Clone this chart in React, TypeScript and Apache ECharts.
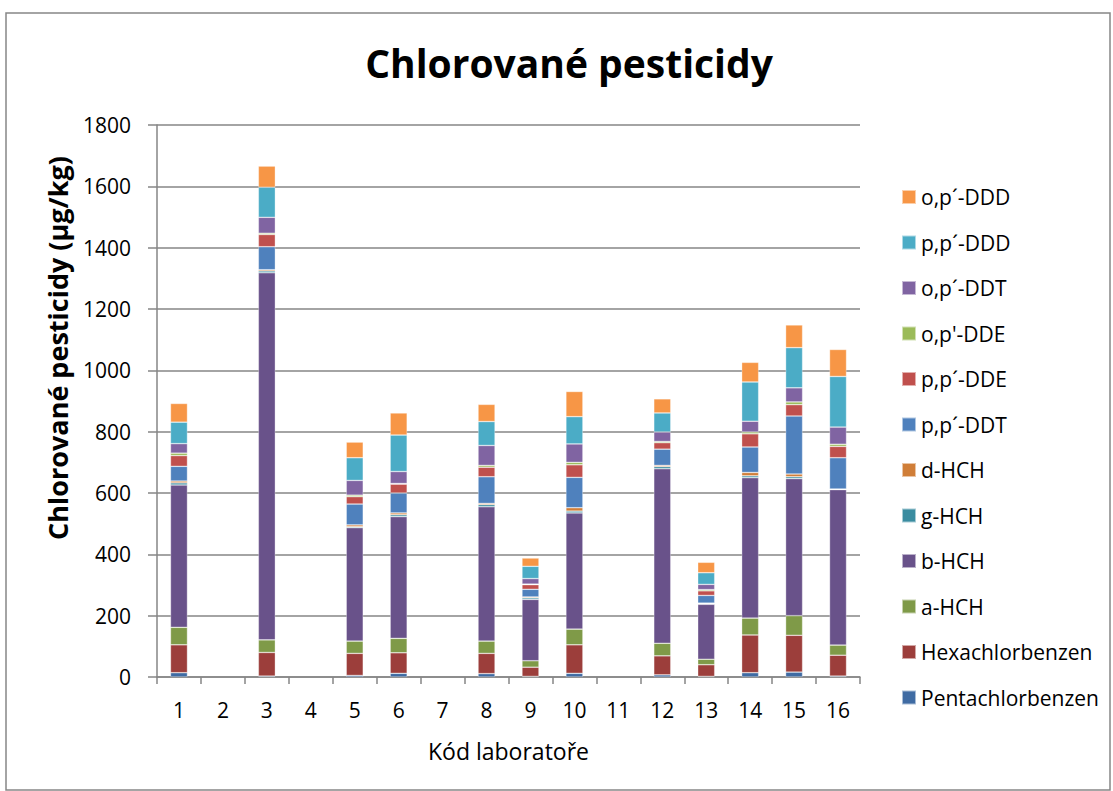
import React, { useEffect, useRef } from "react";
import * as echarts from "echarts";

const labs = ["1", "2", "3", "4", "5", "6", "7", "8", "9", "10", "11", "12", "13", "14", "15", "16"];

const pentachlorbenzen = [14, null, 3, null, 5, 12, null, 11, 2, 12, null, 7, 2, 14, 16, 3];
const hexachlorbenzen = [91, null, 77, null, 72, 67, null, 66, 30, 93, null, 62, 38, 123, 120, 68];
const aHCH = [57, null, 41, null, 40, 47, null, 40, 21, 51, null, 41, 18, 55, 64, 33];
const bHCH = [464, null, 1197, null, 370, 397, null, 438, 200, 379, null, 569, 179, 458, 447, 507];
const gHCH = [7, null, 6, null, 3, 6, null, 7, 5, 6, null, 7, 2, 6, 6, 1];
const dHCH = [6, null, 4, null, 6, 6, null, 4, 3, 11, null, 4, 2, 11, 9, 1];
const ppDDT = [48, null, 75, null, 68, 65, null, 87, 25, 99, null, 53, 25, 83, 189, 102];
const ppDDE = [35, null, 40, null, 24, 29, null, 31, 15, 41, null, 21, 15, 43, 37, 37];
const opDDE = [8, null, 4, null, 5, 2, null, 6, 2, 8, null, 4, 4, 6, 9, 7];
const opDDT = [31, null, 52, null, 48, 39, null, 65, 18, 60, null, 31, 17, 35, 46, 56];
const ppDDD = [70, null, 98, null, 74, 119, null, 78, 40, 89, null, 62, 38, 128, 131, 165];
const opDDD = [61, null, 69, null, 51, 72, null, 56, 27, 82, null, 46, 34, 64, 74, 88];

const seriesNames = [
  "Pentachlorbenzen",
  "Hexachlorbenzen",
  "a-HCH",
  "b-HCH",
  "g-HCH",
  "d-HCH",
  "p,p´-DDT",
  "p,p´-DDE",
  "o,p'-DDE",
  "o,p´-DDT",
  "p,p´-DDD",
  "o,p´-DDD",
];
const seriesValues = [
  pentachlorbenzen,
  hexachlorbenzen,
  aHCH,
  bHCH,
  gHCH,
  dHCH,
  ppDDT,
  ppDDE,
  opDDE,
  opDDT,
  ppDDD,
  opDDD,
];
const seriesColors = [
  "#3f6ba3",
  "#9c3e3b",
  "#7f9a48",
  "#69528a",
  "#3a8ca0",
  "#d07e38",
  "#4f81bd",
  "#c0504d",
  "#9bbb59",
  "#8064a2",
  "#4bacc6",
  "#f79646",
];

const yTicks = { min: 0, max: 1800, interval: 200 };

const FONT = "'Open Sans', sans-serif";
const GRAY = "#868686";

export default function App() {
  const ref = useRef<HTMLDivElement>(null);

  useEffect(() => {
    document.body.style.margin = "0";
    if (!ref.current) return;
    const chart = echarts.init(ref.current, null, { renderer: "svg" });
    chart.setOption({
      animation: false,
      backgroundColor: "#ffffff",
      textStyle: { fontFamily: FONT },
      title: {
        text: "Chlorované pesticidy",
        left: 564,
        textAlign: "center",
        top: 38,
        textStyle: { fontFamily: FONT, fontWeight: "bold", fontSize: 39, color: "#000" },
      },
      grid: { left: 157, right: 253, top: 125, bottom: 114, containLabel: false },
      legend: {
        orient: "vertical",
        left: 901,
        top: 186.5,
        padding: 0,
        itemWidth: 14,
        itemHeight: 14,
        itemGap: 24.5,
        icon: "rect",
        data: [...seriesNames].reverse(),
        textStyle: { fontFamily: FONT, fontSize: 21, color: "#000" },
      },
      xAxis: {
        type: "category",
        data: labs,
        axisLine: { lineStyle: { color: GRAY, width: 1.5 } },
        axisTick: { show: true, length: 7, lineStyle: { color: GRAY, width: 1.5 } },
        axisLabel: { fontFamily: FONT, fontSize: 21, color: "#000", margin: 22 },
        name: "Kód laboratoře",
        nameLocation: "middle",
        nameGap: 62,
        nameTextStyle: { fontFamily: FONT, fontSize: 23, color: "#000" },
      },
      yAxis: {
        type: "value",
        min: yTicks.min,
        max: yTicks.max,
        interval: yTicks.interval,
        axisLine: { show: true, lineStyle: { color: GRAY, width: 1.5 } },
        axisTick: { show: true, length: 9, lineStyle: { color: GRAY, width: 1.5 } },
        axisLabel: {
          fontFamily: FONT,
          fontSize: 21,
          color: "#000",
          margin: 26,
          formatter: (v: number) => String(v),
        },
        splitLine: { lineStyle: { color: GRAY, width: 1.5 } },
      },
      graphic: [
        {
          type: "rect",
          shape: { x: 6, y: 13, width: 1104, height: 777 },
          style: { fill: "none", stroke: GRAY, lineWidth: 1.5 },
          silent: true,
        },
        {
          type: "text",
          x: 57,
          y: 348,
          rotation: Math.PI / 2,
          style: {
            text: "Chlorované pesticidy (µg/kg)",
            font: `bold 27px ${FONT}`,
            fill: "#000",
            textAlign: "center",
            textVerticalAlign: "middle",
          },
        },
      ],
      series: seriesNames.map((name, i) => ({
        name,
        type: "bar",
        stack: "total",
        barWidth: 17,
        data: seriesValues[i],
        itemStyle: {
          color: seriesColors[i],
          borderColor: "rgba(255,255,255,0.55)",
          borderWidth: 0.6,
        },
      })),
    });
    return () => chart.dispose();
  }, []);

  return <div ref={ref} style={{ width: 1113, height: 791 }} />;
}
